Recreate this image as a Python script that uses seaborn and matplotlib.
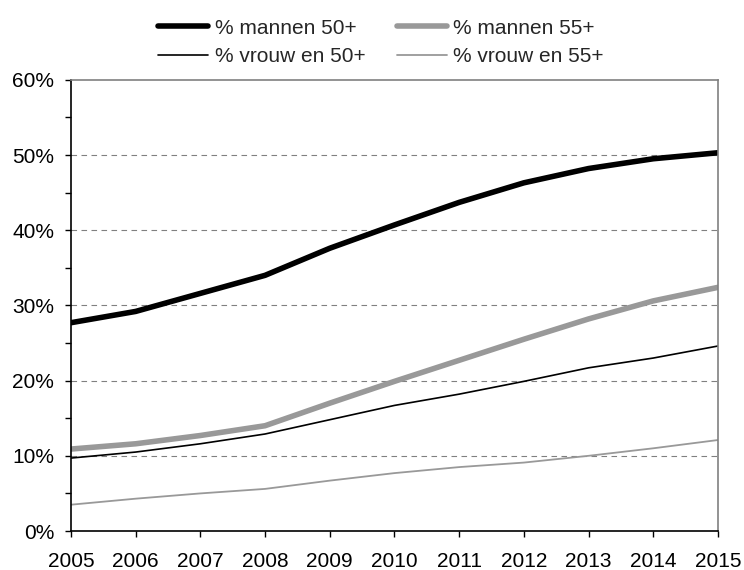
import matplotlib.pyplot as plt
import matplotlib.ticker as mticker
import pandas as pd
import seaborn as sns

years = list(range(2005, 2016))
mannen_50 = [27.7, 29.2, 31.6, 34.0, 37.6, 40.7, 43.7, 46.3, 48.2, 49.5, 50.3]
mannen_55 = [10.9, 11.6, 12.7, 14.0, 17.0, 19.9, 22.7, 25.5, 28.2, 30.6, 32.4]
vrouwen_50 = [9.7, 10.5, 11.6, 12.9, 14.8, 16.7, 18.2, 19.9, 21.7, 23.0, 24.6]
vrouwen_55 = [3.5, 4.3, 5.0, 5.6, 6.7, 7.7, 8.5, 9.1, 10.0, 11.0, 12.1]

labels = ['% mannen 50+', '% vrouw en 50+', '% mannen 55+', '% vrouw en 55+']
series = [mannen_50, vrouwen_50, mannen_55, vrouwen_55]
styles = {
    '% mannen 50+': ('#000000', 4.0),
    '% vrouw en 50+': ('#000000', 1.2),
    '% mannen 55+': ('#999999', 4.0),
    '% vrouw en 55+': ('#999999', 1.3),
}

df = pd.DataFrame(
    [(y, lab, v) for lab, vals in zip(labels, series) for y, v in zip(years, vals)],
    columns=['Jaar', 'Serie', 'Waarde'],
)

sns.set_theme(style='white')
plt.rcParams['font.family'] = ['Liberation Sans', 'DejaVu Sans']

fig = plt.figure(figsize=(7.44, 5.70), dpi=100)
ax = fig.add_axes([0.0954, 0.0684, 0.8696, 0.7916])

# gestippelde rasterlijnen
for g in [10, 20, 30, 40, 50]:
    ax.axhline(g, color='#808080', lw=0.8, ls=(0, (5, 4)), zorder=0)

for lab in labels:
    color, lw = styles[lab]
    sns.lineplot(
        data=df[df['Serie'] == lab], x='Jaar', y='Waarde',
        color=color, lw=lw, label=lab, ax=ax,
    )

ax.set_xlim(2005, 2015)
ax.set_ylim(0, 60)
ax.set_xticks(years)
ax.set_yticks(range(0, 61, 10))
ax.yaxis.set_minor_locator(mticker.MultipleLocator(5))
ax.yaxis.set_major_formatter(mticker.FuncFormatter(lambda v, _: f'{v:.0f}%'))
ax.set_xlabel('')
ax.set_ylabel('')

ax.tick_params(axis='both', which='both', direction='out', colors='black',
               labelsize=15, length=4, width=1)
ax.tick_params(axis='x', pad=11, bottom=True)
ax.tick_params(axis='y', which='major', pad=8, left=True)
ax.tick_params(axis='y', which='minor', left=True, length=4)

for side in ['left', 'bottom']:
    ax.spines[side].set_color('black')
    ax.spines[side].set_linewidth(1.2)
for side in ['top', 'right']:
    ax.spines[side].set_color('#808080')
    ax.spines[side].set_linewidth(1.2)

ax.legend(
    loc='upper center', bbox_to_anchor=(0.512, 1.0), bbox_transform=fig.transFigure,
    ncol=2, frameon=False, fontsize=15, handlelength=2.4, handletextpad=0.3,
    columnspacing=1.5, labelspacing=0.45,
)

fig.savefig('out.png', dpi=100)
